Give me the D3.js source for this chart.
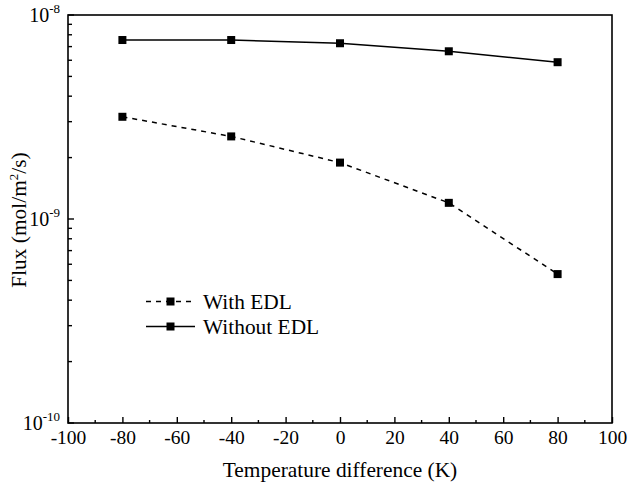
<!DOCTYPE html>
<html>
<head>
<meta charset="UTF-8">
<style>
  body { margin: 0; background: #fff; }
  svg text { font-family: "Liberation Serif", "Times New Roman", serif; fill: #000; }
</style>
</head>
<body>
<svg id="chart" width="628" height="486"></svg>
<script src="https://d3js.org/d3.v7.min.js"></script>
<script>
// data
var tempDiff = [-80, -40, 0, 40, 80];
var fluxWithEDL = [3.17e-9, 2.54e-9, 1.89e-9, 1.20e-9, 5.37e-10];
var fluxWithoutEDL = [7.54e-9, 7.54e-9, 7.27e-9, 6.64e-9, 5.87e-9];
var xTicks = [-100, -80, -60, -40, -20, 0, 20, 40, 60, 80, 100];
var yDecades = [-10, -9, -8];

var svg = d3.select("#chart");
var mLeft = 68, mRight = 612, mTop = 15, mBottom = 423;

var x = d3.scaleLinear().domain([-100, 100]).range([mLeft, mRight]);
var y = d3.scaleLog().domain([1e-10, 1e-8]).range([mBottom, mTop]);

// frame
svg.append("rect")
  .attr("x", mLeft).attr("y", mTop)
  .attr("width", mRight - mLeft).attr("height", mBottom - mTop)
  .attr("fill", "none").attr("stroke", "#000").attr("stroke-width", 1.6);

// x axis ticks (inside)
var xAxis = d3.axisBottom(x).tickValues(xTicks).tickSize(-6).tickPadding(7)
  .tickFormat(d => String(d));
var gx = svg.append("g").attr("transform", "translate(0," + mBottom + ")").call(xAxis);
gx.select(".domain").remove();
gx.selectAll(".tick line").attr("stroke-width", 1.4);
gx.selectAll("text").attr("font-size", 19.5).attr("dy", "0.72em");

var xMinor = d3.range(-90, 100, 20);
svg.append("g").selectAll("line").data(xMinor).enter().append("line")
  .attr("x1", d => x(d)).attr("x2", d => x(d))
  .attr("y1", mBottom).attr("y2", mBottom - 3)
  .attr("stroke", "#000").attr("stroke-width", 1.4);

// y axis ticks (inside)
var yMajor = yDecades.map(e => Math.pow(10, e));
var yMinor = [];
[-10, -9].forEach(function(e) {
  for (var k = 2; k <= 9; k++) yMinor.push(k * Math.pow(10, e));
});
svg.append("g").selectAll("line").data(yMajor).enter().append("line")
  .attr("x1", mLeft).attr("x2", mLeft + 6)
  .attr("y1", d => y(d)).attr("y2", d => y(d))
  .attr("stroke", "#000").attr("stroke-width", 1.4);
svg.append("g").selectAll("line").data(yMinor).enter().append("line")
  .attr("x1", mLeft).attr("x2", mLeft + 4)
  .attr("y1", d => y(d)).attr("y2", d => y(d))
  .attr("stroke", "#000").attr("stroke-width", 1.4);

// y tick labels 10^n
var yl = svg.append("g").selectAll("text").data(yDecades).enter().append("text")
  .attr("x", 60).attr("y", d => y(Math.pow(10, d)) + 7)
  .attr("text-anchor", "end").attr("font-size", 20);
yl.append("tspan").text("10");
yl.append("tspan").attr("dy", -9).attr("font-size", 13).text(d => String(d));

// axis titles
svg.append("text")
  .attr("x", (mLeft + mRight) / 2).attr("y", 477)
  .attr("text-anchor", "middle").attr("font-size", 21.4)
  .text("Temperature difference (K)");

var yt = svg.append("text")
  .attr("transform", "translate(26,220) rotate(-90)")
  .attr("text-anchor", "middle").attr("font-size", 21.4);
yt.append("tspan").text("Flux (mol/m");
yt.append("tspan").attr("dy", -8).attr("font-size", 13).text("2");
yt.append("tspan").attr("dy", 8).text("/s)");

// series
var line = d3.line().x(d => x(d[0])).y(d => y(d[1]));
var series = [
  { name: "With EDL", vals: fluxWithEDL, dash: "5,5" },
  { name: "Without EDL", vals: fluxWithoutEDL, dash: null }
];
series.forEach(function(s) {
  var pts = tempDiff.map((t, i) => [t, s.vals[i]]);
  svg.append("path").datum(pts)
    .attr("d", line).attr("fill", "none")
    .attr("stroke", "#000").attr("stroke-width", 1.5)
    .attr("stroke-dasharray", s.dash);
  svg.append("g").selectAll("rect").data(pts).enter().append("rect")
    .attr("x", d => x(d[0]) - 4).attr("y", d => y(d[1]) - 4)
    .attr("width", 8).attr("height", 8).attr("fill", "#000");
});

// legend
series.forEach(function(s, i) {
  var ly = 301.5 + i * 25;
  svg.append("line")
    .attr("x1", 146).attr("x2", 195).attr("y1", ly).attr("y2", ly)
    .attr("stroke", "#000").attr("stroke-width", 1.5)
    .attr("stroke-dasharray", s.dash ? "5,5" : null);
  svg.append("rect").attr("x", 166.5).attr("y", ly - 4)
    .attr("width", 8).attr("height", 8).attr("fill", "#000");
  svg.append("text").attr("x", 203).attr("y", ly + 7)
    .attr("font-size", 21.4).text(s.name);
});
</script>
</body>
</html>
